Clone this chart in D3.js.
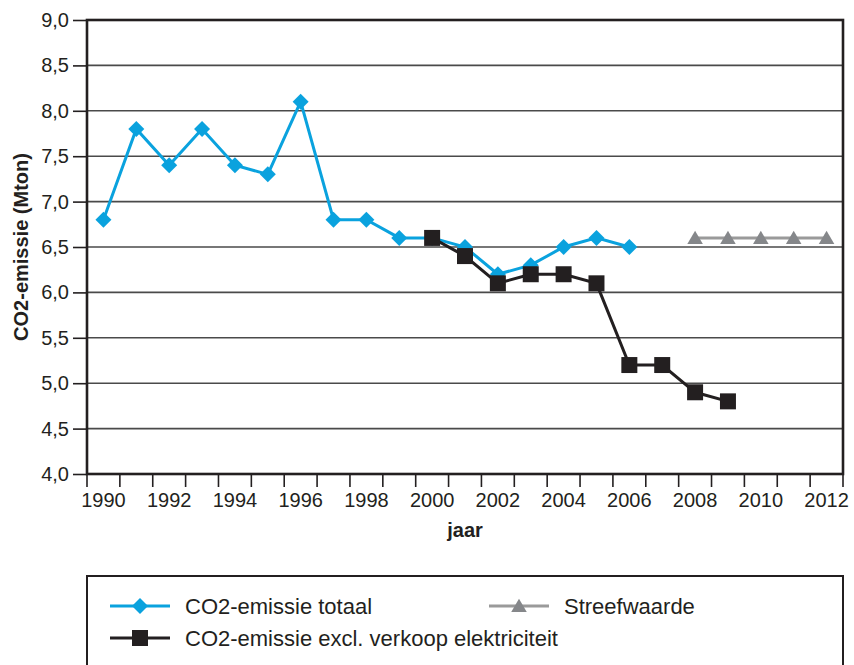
<!DOCTYPE html>
<html>
<head>
<meta charset="utf-8">
<script src="https://cdn.jsdelivr.net/npm/d3@7"></script>
<style>
  html, body { margin: 0; padding: 0; background: #fff; }
  svg { display: block; font-family: "Liberation Sans", Arial, Helvetica, sans-serif; }
</style>
</head>
<body>
<svg id="chart" width="854" height="665"></svg>
<script>
// ---- data ----
const years = ["1990","1991","1992","1993","1994","1995","1996","1997","1998","1999","2000","2001","2002","2003","2004","2005","2006","2007","2008","2009","2010","2011","2012"];
const labelYears = ["1990","1992","1994","1996","1998","2000","2002","2004","2006","2008","2010","2012"];
const yTicks = [4.0, 4.5, 5.0, 5.5, 6.0, 6.5, 7.0, 7.5, 8.0, 8.5, 9.0];

const totalYears  = ["1990","1991","1992","1993","1994","1995","1996","1997","1998","1999","2000","2001","2002","2003","2004","2005","2006"];
const totalValues = [6.8, 7.8, 7.4, 7.8, 7.4, 7.3, 8.1, 6.8, 6.8, 6.6, 6.6, 6.5, 6.2, 6.3, 6.5, 6.6, 6.5];

const exclYears  = ["2000","2001","2002","2003","2004","2005","2006","2007","2008","2009"];
const exclValues = [6.6, 6.4, 6.1, 6.2, 6.2, 6.1, 5.2, 5.2, 4.9, 4.8];

const targetYears  = ["2008","2009","2010","2011","2012"];
const targetValues = [6.6, 6.6, 6.6, 6.6, 6.6];

const seriesNames = ["CO2-emissie totaal", "Streefwaarde", "CO2-emissie excl. verkoop elektriciteit"];

(function () {
// ---- styles ----
const BLUE = "#0aa2de", BLACK = "#231f20", GREY_LINE = "#9a9a9a", GREY_MARK = "#85878a", GRID = "#4a4a4a";

const svg = d3.select("#chart");
const pL = 87, pR = 843, pT = 20, pB = 474;

const x = d3.scaleBand().domain(years).range([pL, pR]).padding(0);
const y = d3.scaleLinear().domain([4, 9]).range([pB, pT]);
const cx = yr => x(yr) + x.bandwidth() / 2;
const fmt = v => d3.format(".1f")(v).replace(".", ",");

// gridlines
svg.append("g").selectAll("line").data(yTicks).join("line")
  .attr("x1", pL).attr("x2", pR)
  .attr("y1", d => y(d)).attr("y2", d => y(d))
  .attr("stroke", GRID).attr("stroke-width", 1.6);

// y axis
const yAxis = svg.append("g").attr("transform", `translate(${pL},0)`)
  .call(d3.axisLeft(y).tickValues(yTicks).tickFormat(fmt).tickSize(14).tickPadding(4));
yAxis.select(".domain").remove();
yAxis.selectAll(".tick line").attr("stroke", BLACK).attr("stroke-width", 1.6);
yAxis.selectAll(".tick text").attr("font-size", 20).attr("fill", BLACK)
  .attr("font-family", "Liberation Sans, Arial, sans-serif");

// x axis labels
const xAxis = svg.append("g").attr("transform", `translate(0,${pB})`)
  .call(d3.axisBottom(x).tickValues(labelYears).tickSize(0).tickPadding(19));
xAxis.select(".domain").remove();
xAxis.selectAll(".tick text").attr("font-size", 20).attr("fill", BLACK)
  .attr("font-family", "Liberation Sans, Arial, sans-serif");

// x ticks at band edges
const edges = years.map(yr => x(yr)).concat([x.range()[1]]);
svg.append("g").selectAll("line").data(edges).join("line")
  .attr("x1", d => d).attr("x2", d => d)
  .attr("y1", pB).attr("y2", pB + 13)
  .attr("stroke", BLACK).attr("stroke-width", 1.6);

// plot frame
svg.append("rect").attr("x", pL).attr("y", pT)
  .attr("width", pR - pL).attr("height", pB - pT)
  .attr("fill", "none").attr("stroke", BLACK).attr("stroke-width", 2.6);

// axis titles
svg.append("text").attr("transform", `translate(28,${(pT + pB) / 2}) rotate(-90)`)
  .attr("text-anchor", "middle").attr("font-weight", "bold").attr("font-size", 20)
  .attr("fill", BLACK).text("CO2-emissie (Mton)");
svg.append("text").attr("x", (pL + pR) / 2).attr("y", 537)
  .attr("text-anchor", "middle").attr("font-weight", "bold").attr("font-size", 20)
  .attr("fill", BLACK).text("jaar");

// markers
const diamond = s => `M0,${-s}L${s},0L0,${s}L${-s},0Z`;
const square = s => `M${-s},${-s}H${s}V${s}H${-s}Z`;
const triangle = s => `M0,${-s}L${s * 1.08},${s * 0.85}H${-s * 1.08}Z`;

const line = d3.line().x(d => cx(d[0])).y(d => y(d[1]));

function drawSeries(ys, vs, lineColor, markPath, markColor) {
  const pts = ys.map((yr, i) => [yr, vs[i]]);
  svg.append("path").datum(pts).attr("d", line)
    .attr("fill", "none").attr("stroke", lineColor).attr("stroke-width", 3)
    .attr("stroke-linejoin", "miter");
  svg.append("g").selectAll("path").data(pts).join("path")
    .attr("transform", d => `translate(${cx(d[0])},${y(d[1])})`)
    .attr("d", markPath).attr("fill", markColor);
}

drawSeries(targetYears, targetValues, GREY_LINE, triangle(7.2), GREY_MARK);
drawSeries(totalYears, totalValues, BLUE, diamond(8), BLUE);
drawSeries(exclYears, exclValues, BLACK, square(8), BLACK);

// legend
svg.append("rect").attr("x", pL).attr("y", 576)
  .attr("width", pR - pL).attr("height", 110)
  .attr("fill", "none").attr("stroke", BLACK).attr("stroke-width", 2);

const legendItems = [
  {name: seriesNames[0], lx: 110, ly: 606, line: BLUE, mark: diamond(8), mc: BLUE},
  {name: seriesNames[1], lx: 489, ly: 606, line: GREY_LINE, mark: triangle(7.2), mc: GREY_MARK},
  {name: seriesNames[2], lx: 110, ly: 638, line: BLACK, mark: square(8), mc: BLACK}
];
const lg = svg.append("g").selectAll("g").data(legendItems).join("g");
lg.append("line").attr("x1", d => d.lx).attr("x2", d => d.lx + 60)
  .attr("y1", d => d.ly).attr("y2", d => d.ly)
  .attr("stroke", d => d.line).attr("stroke-width", 3);
lg.append("path").attr("transform", d => `translate(${d.lx + 30},${d.ly})`)
  .attr("d", d => d.mark).attr("fill", d => d.mc);
lg.append("text").attr("x", d => d.lx + 75).attr("y", d => d.ly)
  .attr("dy", "0.35em").attr("font-size", 22).attr("fill", BLACK).text(d => d.name);
})();
</script>
</body>
</html>
